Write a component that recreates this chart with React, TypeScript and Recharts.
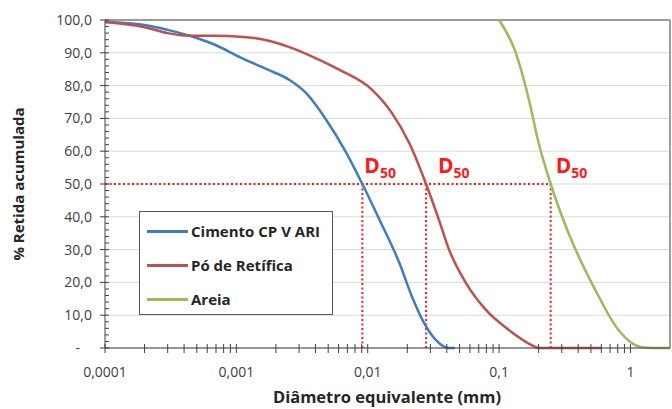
import { LineChart, Line, XAxis, YAxis, CartesianGrid, ReferenceLine, Legend } from "recharts"

// Curvas granulométricas (x = diâmetro em mm, y = % retida acumulada)
const cimento = [
  { x: 0.0001, y: 99.4 },
  { x: 0.0002, y: 98.5 },
  { x: 0.0003, y: 97.0 },
  { x: 0.0005, y: 94.5 },
  { x: 0.0007, y: 92.3 },
  { x: 0.00106, y: 88.7 },
  { x: 0.0017, y: 85.0 },
  { x: 0.00254, y: 81.7 },
  { x: 0.0034, y: 77.7 },
  { x: 0.00484, y: 69.5 },
  { x: 0.00687, y: 59.5 },
  { x: 0.0091, y: 50.0 },
  { x: 0.0125, y: 38.5 },
  { x: 0.0173, y: 26.2 },
  { x: 0.0218, y: 15.5 },
  { x: 0.0269, y: 7.6 },
  { x: 0.0331, y: 2.4 },
  { x: 0.0416, y: 0 },
  { x: 0.046, y: 0 },
]

const poRetifica = [
  { x: 0.0001, y: 99.4 },
  { x: 0.0002, y: 97.8 },
  { x: 0.0003, y: 96.0 },
  { x: 0.0004, y: 95.3 },
  { x: 0.0006, y: 95.2 },
  { x: 0.001, y: 95.0 },
  { x: 0.0017, y: 93.8 },
  { x: 0.0025, y: 91.8 },
  { x: 0.004, y: 88.4 },
  { x: 0.0061, y: 84.8 },
  { x: 0.0108, y: 78.7 },
  { x: 0.0153, y: 71.6 },
  { x: 0.0207, y: 62.5 },
  { x: 0.0278, y: 50.0 },
  { x: 0.0349, y: 39.0 },
  { x: 0.0416, y: 30.0 },
  { x: 0.056, y: 19.8 },
  { x: 0.0794, y: 11.6 },
  { x: 0.1186, y: 5.5 },
  { x: 0.177, y: 0.9 },
  { x: 0.2, y: 0 },
  { x: 0.3, y: 0 },
  { x: 0.6, y: 0 },
]

const areia = [
  { x: 0.1, y: 100 },
  { x: 0.134, y: 90.0 },
  { x: 0.168, y: 76.0 },
  { x: 0.2, y: 62.5 },
  { x: 0.247, y: 50.0 },
  { x: 0.338, y: 35.0 },
  { x: 0.54, y: 17.7 },
  { x: 0.81, y: 5.5 },
  { x: 1.2, y: 0.3 },
  { x: 1.5, y: 0 },
  { x: 2, y: 0 },
]

const d50 = [0.0091, 0.0278, 0.247]
const d50Dx = [2, 12, 5]

const majorX = [0.0001, 0.001, 0.01, 0.1, 1]
const minorX = [
  0.0001, 0.0002, 0.0003, 0.0004, 0.0005, 0.0006, 0.0007, 0.0008, 0.0009,
  0.001, 0.002, 0.003, 0.004, 0.005, 0.006, 0.007, 0.008, 0.009,
  0.01, 0.02, 0.03, 0.04, 0.05, 0.06, 0.07, 0.08, 0.09,
  0.1, 0.2, 0.3, 0.4, 0.5, 0.6, 0.7, 0.8, 0.9, 1,
]
const majorY = [0, 10, 20, 30, 40, 50, 60, 70, 80, 90, 100]
const minorY = [
  0, 2, 4, 6, 8, 10, 12, 14, 16, 18, 20, 22, 24, 26, 28, 30, 32, 34, 36, 38, 40,
  42, 44, 46, 48, 50, 52, 54, 56, 58, 60, 62, 64, 66, 68, 70, 72, 74, 76, 78, 80,
  82, 84, 86, 88, 90, 92, 94, 96, 98, 100,
]

const series = [
  { name: "Cimento CP V ARI", data: cimento, color: "#3f7cc4" },
  { name: "Pó de Retífica", data: poRetifica, color: "#c0504d" },
  { name: "Areia", data: areia, color: "#9bbb59" },
]

const font = "'Open Sans', sans-serif"
const d50Color = "#ff1a1a"
const axisColor = "#404040"
const X_GAP = 20 // distância do eixo até o texto do tick (x)
const Y_GAP = 13 // distância do eixo até o texto do tick (y)

const fmtX = (v: number) => String(v).replace(".", ",")
const fmtY = (v: number) => (v === 0 ? "-" : v.toFixed(1).replace(".", ","))

function XTick(props: any) {
  const { x, y, payload } = props
  const axisY = y - X_GAP
  const major = majorX.includes(payload.value)
  return (
    <g>
      <line x1={x} x2={x} y1={axisY - 4} y2={axisY + 5} stroke={axisColor} strokeWidth={1} />
      {major && (
        <text x={x} y={axisY + 29} textAnchor="middle" fill={axisColor} fontSize={14} fontFamily={font}>
          {fmtX(payload.value)}
        </text>
      )}
    </g>
  )
}

function YTick(props: any) {
  const { x, y, payload } = props
  const axisX = x + Y_GAP
  const major = majorY.includes(payload.value)
  const zero = payload.value === 0
  return (
    <g>
      <line x1={major ? axisX - 5 : axisX} x2={axisX + 4} y1={y} y2={y} stroke={axisColor} strokeWidth={1} />
      {major && (
        <text x={zero ? x - 12 : x} y={y + 5} textAnchor="end" fill={axisColor} fontSize={14} fontFamily={font}>
          {fmtY(payload.value)}
        </text>
      )}
    </g>
  )
}

function D50Label(props: any) {
  const vb = props.viewBox || {}
  return (
    <text x={vb.x + props.dx} y={vb.y - 11} fill={d50Color} fontFamily={font} fontWeight="bold">
      <tspan fontSize={21}>D</tspan>
      <tspan fontSize={14} dy={5}>50</tspan>
    </text>
  )
}

function LegendBox() {
  return (
    <div
      style={{
        border: "1px solid #595959",
        background: "#fff",
        width: 194,
        height: 104,
        boxSizing: "border-box",
        padding: "2px 0 0 7px",
        fontFamily: font,
        fontWeight: "bold",
        fontSize: 15,
        color: "#262626",
      }}
    >
      {series.map((s) => (
        <div key={s.name} style={{ display: "flex", alignItems: "center", height: 34 }}>
          <span style={{ width: 41, height: 3, background: s.color, marginRight: 3 }} />
          <span>{s.name}</span>
        </div>
      ))}
    </div>
  )
}

export default function App() {
  return (
    <div style={{ position: "absolute", left: 0, top: 0 }}>
      <LineChart width={672} height={409} margin={{ top: 20, right: 2, left: 0, bottom: 0 }}>
        <CartesianGrid vertical={false} horizontalValues={majorY} stroke="#d9d9d9" strokeWidth={1} />
        <XAxis
          dataKey="x"
          type="number"
          scale="log"
          domain={[0.0001, 2]}
          allowDataOverflow
          ticks={minorX}
          interval={0}
          tickLine={false}
          tickSize={0}
          tickMargin={X_GAP}
          height={61}
          stroke={axisColor}
          tick={(p: any) => <XTick {...p} />}
          label={() => (
            <text
              x={387}
              y={403}
              textAnchor="middle"
              fill="#262626"
              fontFamily={font}
              fontWeight="bold"
              fontSize={16.5}
            >
              Diâmetro equivalente (mm)
            </text>
          )}
        />
        <YAxis
          type="number"
          domain={[0, 100]}
          ticks={minorY}
          interval={0}
          width={105}
          tickLine={false}
          tickSize={0}
          tickMargin={Y_GAP}
          stroke={axisColor}
          tick={(p: any) => <YTick {...p} />}
          label={{
            value: "% Retida acumulada",
            angle: -90,
            position: "insideLeft",
            offset: 19,
            style: { textAnchor: "middle", fill: "#262626", fontFamily: font, fontWeight: "bold", fontSize: 15 },
          }}
        />
        <ReferenceLine y={100} stroke="#7f7f7f" strokeWidth={1.5} />
        <ReferenceLine x={2} stroke="#7f7f7f" strokeWidth={1.5} />
        <ReferenceLine
          segment={[{ x: 0.0001, y: 50 }, { x: d50[2], y: 50 }]}
          stroke={d50Color}
          strokeWidth={2}
          strokeDasharray="2 2.5"
        />
        {d50.map((d, i) => (
          <ReferenceLine
            key={d}
            segment={[{ x: d, y: 0 }, { x: d, y: 50 }]}
            stroke={d50Color}
            strokeWidth={2}
            strokeDasharray="2 2.5"
            label={<D50Label dx={d50Dx[i]} />}
          />
        ))}
        {series.map((s) => (
          <Line
            key={s.name}
            data={s.data}
            dataKey="y"
            name={s.name}
            type="monotone"
            stroke={s.color}
            strokeWidth={2.5}
            dot={false}
            isAnimationActive={false}
          />
        ))}
        <Legend
          layout="vertical"
          align="center"
          verticalAlign="middle"
          content={() => <LegendBox />}
          wrapperStyle={{ position: "absolute", left: 139, top: 211, width: 194 }}
        />
      </LineChart>
    </div>
  )
}
